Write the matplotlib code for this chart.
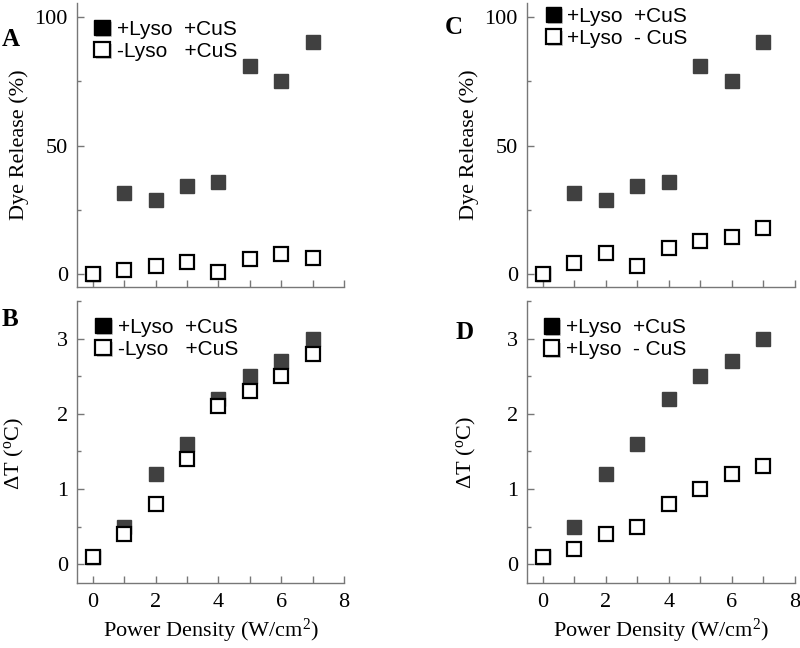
import matplotlib
matplotlib.use("Agg")
import matplotlib.pyplot as plt
import matplotlib.patheffects as pe
from matplotlib.ticker import MultipleLocator

plt.rcParams['font.family'] = ['Liberation Serif', 'DejaVu Serif']
plt.rcParams['mathtext.fontset'] = 'custom'
plt.rcParams['mathtext.rm'] = 'Liberation Serif'
plt.rcParams['mathtext.it'] = 'Liberation Serif:italic'

power = [0, 1, 2, 3, 4, 5, 6, 7]

# Panel A / C : dye release (%)
release_lyso_cus = [0, 31.6, 29.0, 34.2, 36.0, 81.0, 75.0, 90.3]
release_nolyso_cus = [0, 1.8, 3.1, 4.8, 0.8, 5.7, 8.0, 6.1]
release_lyso_nocus = [0, 4.3, 8.4, 3.0, 10.1, 13.0, 14.5, 17.9]

# Panel B / D : temperature increase (deg C)
dT_lyso_cus = [0.1, 0.5, 1.2, 1.6, 2.2, 2.5, 2.7, 3.0]
dT_nolyso_cus = [0.1, 0.4, 0.8, 1.4, 2.1, 2.3, 2.5, 2.8]
dT_lyso_nocus = [0.1, 0.2, 0.4, 0.5, 0.8, 1.0, 1.2, 1.3]

label_filled = "+Lyso  +CuS"
label_open_AB = "-Lyso   +CuS"
label_open_CD = "+Lyso  - CuS"

fig = plt.figure(figsize=(8, 6.48), dpi=100)

W = 800.0
H = 648.0
def axes_px(l, r, b, t):
    return fig.add_axes([l / W, (H - b) / H, (r - l) / W, (b - t) / H])

axA = axes_px(77, 344, 287, 3)
axB = axes_px(77, 344, 583, 301)
axC = axes_px(527, 795, 287, 3)
axD = axes_px(527, 795, 583, 301)

FILL = '#404040'
MS = 10

def style(ax, ylim, ymaj, ymin, xlabels):
    ax.set_xlim(-0.5, 8)
    ax.set_ylim(*ylim)
    for s in ('top', 'right'):
        ax.spines[s].set_visible(False)
    for s in ('left', 'bottom'):
        ax.spines[s].set_color('#777777')
        ax.spines[s].set_linewidth(1.0)
    ax.set_xticks(range(0, 9))
    if xlabels:
        ax.set_xticklabels([str(i) if i % 2 == 0 else '' for i in range(0, 9)])
    else:
        ax.set_xticklabels([''] * 9)
    ax.yaxis.set_major_locator(MultipleLocator(ymaj))
    ax.yaxis.set_minor_locator(MultipleLocator(ymin))
    ax.tick_params(axis='both', which='major', direction='in', length=5,
                   width=1, color='#777777', labelsize=16, pad=6.5)
    ax.tick_params(axis='y', which='minor', direction='in', length=3,
                   width=1, color='#777777')
    ax.tick_params(axis='x', which='major', pad=7)

def plot_pair(ax, filled, opened, open_label, legend_anchor, textpad):
    ax.plot(power, filled, linestyle='none', marker='s', markersize=MS,
            markerfacecolor=FILL, markeredgecolor=FILL, label=label_filled,
            zorder=3)
    ax.plot(power, opened, linestyle='none', marker='s', markersize=MS,
            markerfacecolor='white', markeredgecolor='black',
            markeredgewidth=1.6, label=open_label, zorder=4)
    leg = ax.legend(loc='center left', bbox_to_anchor=legend_anchor, frameon=False,
                    prop={'family': 'Liberation Sans', 'size': 15},
                    handlelength=0.6, handletextpad=textpad, labelspacing=0.15,
                    borderaxespad=0, borderpad=0, markerscale=1.1)
    for lh in leg.legend_handles:
        lh.set_path_effects([pe.SimplePatchShadow(offset=(1.5, -1.5),
                                                   shadow_rgbFace='#999999',
                                                   alpha=0.5), pe.Normal()])
    hs = leg.legend_handles
    hs[0].set_markerfacecolor('black')
    hs[0].set_markeredgecolor('black')

plot_pair(axA, release_lyso_cus, release_nolyso_cus, label_open_AB, (0.07, 0.868), 0.42)
plot_pair(axC, release_lyso_cus, release_lyso_nocus, label_open_CD, (0.075, 0.915), 0.36)
plot_pair(axB, dT_lyso_cus, dT_nolyso_cus, label_open_AB, (0.074, 0.868), 0.42)
plot_pair(axD, dT_lyso_cus, dT_lyso_nocus, label_open_CD, (0.069, 0.866), 0.40)

style(axA, (-5, 105.5), 50, 25, False)
style(axC, (-5, 105.5), 50, 25, False)
style(axB, (-0.25, 3.5), 1, 0.5, True)
style(axD, (-0.25, 3.5), 1, 0.5, True)

for ax in (axA, axC):
    ax.set_ylabel('Dye Release (%)', fontsize=16, labelpad=4)
for ax in (axB, axD):
    ax.set_ylabel(r'$\Delta$T ($^{\rm o}$C)', fontsize=16)
    ax.set_xlabel(r'Power Density (W/cm$^{2}$)', fontsize=16, labelpad=4)
axB.yaxis.set_label_coords(-0.19, 0.457)
axD.yaxis.set_label_coords(-0.183, 0.461)

fig.text(2 / W, 1 - 39 / H, 'A', fontsize=18, fontweight='bold', va='center', ha='left')
fig.text(2 / W, 1 - 320 / H, 'B', fontsize=18, fontweight='bold', va='center', ha='left')
fig.text(445 / W, 1 - 28 / H, 'C', fontsize=18, fontweight='bold', va='center', ha='left')
fig.text(456 / W, 1 - 333 / H, 'D', fontsize=18, fontweight='bold', va='center', ha='left')

fig.savefig('out.png', dpi=100)
